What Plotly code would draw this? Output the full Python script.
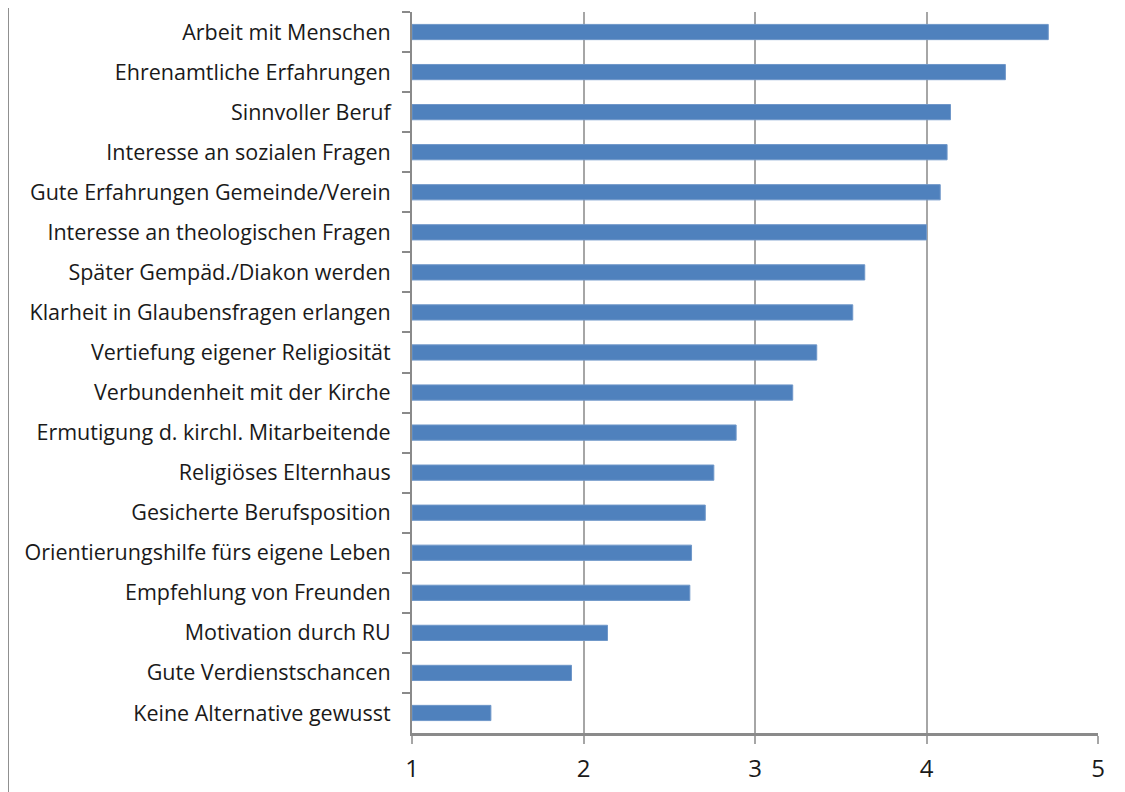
import plotly.graph_objects as go

# Kategorien von oben nach unten
kategorien = [
    "Arbeit mit Menschen",
    "Ehrenamtliche Erfahrungen",
    "Sinnvoller Beruf",
    "Interesse an sozialen Fragen",
    "Gute Erfahrungen Gemeinde/Verein",
    "Interesse an theologischen Fragen",
    "Später Gempäd./Diakon werden",
    "Klarheit in Glaubensfragen erlangen",
    "Vertiefung eigener Religiosität",
    "Verbundenheit mit der Kirche",
    "Ermutigung d. kirchl. Mitarbeitende",
    "Religiöses Elternhaus",
    "Gesicherte Berufsposition",
    "Orientierungshilfe fürs eigene Leben",
    "Empfehlung von Freunden",
    "Motivation durch RU",
    "Gute Verdienstschancen",
    "Keine Alternative gewusst",
]
werte = [4.71, 4.46, 4.14, 4.12, 4.08, 4.00, 3.64, 3.57, 3.36, 3.22,
         2.89, 2.76, 2.71, 2.63, 2.62, 2.14, 1.93, 1.46]
x_ticks = [1, 2, 3, 4, 5]

fig = go.Figure()
fig.add_trace(go.Bar(
    y=kategorien,
    x=[w - 1 for w in werte],
    base=1,
    orientation="h",
    marker=dict(color="#4F81BD", line=dict(color="#6f97c9", width=1)),
    showlegend=False,
))

fig.update_layout(
    width=1125, height=792,
    margin=dict(l=404, r=35, t=4, b=67),
    plot_bgcolor="white", paper_bgcolor="white",
    bargap=0.62,
    font=dict(family="Open Sans", size=21.5, color="#1a1a1a"),
    xaxis=dict(
        range=[1, 5], tickvals=x_ticks, showgrid=True,
        gridcolor="#a6a6a6", gridwidth=2,
        showline=True, linecolor="#8a8a8a", linewidth=3,
        ticks="outside", ticklen=8, tickcolor="#a6a6a6", tickwidth=2,
        tickfont=dict(size=24), zeroline=False, automargin=False,
        ticklabelstandoff=4,
    ),
    yaxis=dict(
        autorange="reversed", tickson="boundaries",
        showline=True, linecolor="#8a8a8a", linewidth=2,
        ticks="outside", ticklen=8, tickcolor="#8a8a8a", tickwidth=2,
        showgrid=False, ticklabelstandoff=15, automargin=False,
    ),
    shapes=[dict(type="line", xref="paper", yref="paper",
                 x0=-0.589, x1=-0.589, y0=-0.1, y1=1.02,
                 line=dict(color="#8a8a8a", width=2))],
)

fig.write_html("out.html")
